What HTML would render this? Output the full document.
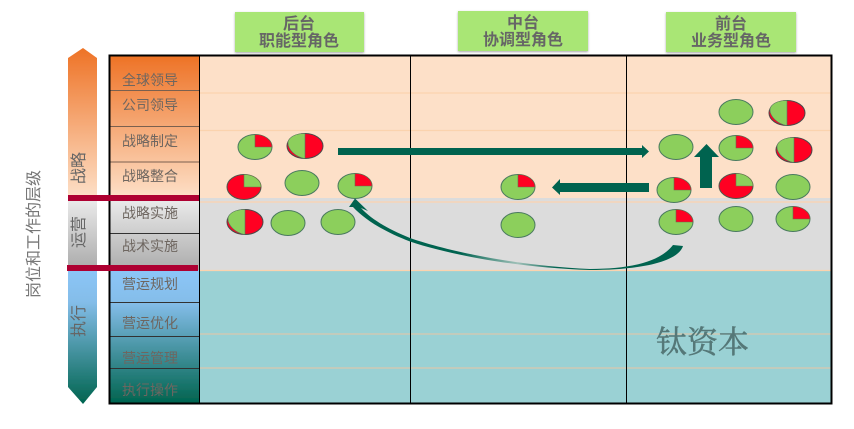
<!DOCTYPE html>
<html><head><meta charset="utf-8"><style>
html,body{margin:0;padding:0;background:#fff}
svg{display:block}
text{font-family:"Liberation Sans","Noto Sans CJK SC",sans-serif}
</style></head><body>
<svg width="854" height="429" viewBox="0 0 854 429" xmlns="http://www.w3.org/2000/svg">
<defs>
<linearGradient id="o" x1="0" y1="0" x2="0" y2="1"><stop offset="0" stop-color="#ee7326"/><stop offset="1" stop-color="#fde0c8"/></linearGradient>
<linearGradient id="g" x1="0" y1="0" x2="0" y2="1"><stop offset="0" stop-color="#ececec"/><stop offset="1" stop-color="#acacac"/></linearGradient>
<linearGradient id="b" x1="0" y1="0" x2="0" y2="1"><stop offset="0" stop-color="#8cc6f8"/><stop offset=".25" stop-color="#84bde9"/><stop offset="1" stop-color="#00644f"/></linearGradient>
<linearGradient id="c" gradientUnits="userSpaceOnUse" x1="350" y1="0" x2="685" y2="0"><stop offset="0" stop-color="#006350"/><stop offset=".33" stop-color="#006350"/><stop offset=".5" stop-color="#9fc0b8"/><stop offset=".62" stop-color="#006350"/><stop offset="1" stop-color="#006350"/></linearGradient>
<filter id="s" x="-10%" y="-10%" width="120%" height="130%"><feDropShadow dx="0" dy="1" stdDeviation="1" flood-color="#000" flood-opacity=".35"/></filter>
<filter id="bl" x="-5%" y="-5%" width="110%" height="110%"><feGaussianBlur stdDeviation=".35"/></filter>
<g id="e"><ellipse cx="0" cy="0" rx="17" ry="12.5" fill="#8ccf5c" stroke="#4a7a5e" stroke-width="1"/></g>
<g id="q"><ellipse cx="0" cy="0" rx="17" ry="12.5" fill="#8ccf5c" stroke="#4a7a5e" stroke-width="1"/><path d="M0 0V-12.5A17 12.5 0 0 1 17 0Z" fill="#ff0022" stroke="#6a6a4a" stroke-width=".6"/></g>
<g id="t"><ellipse cx="0" cy="0" rx="17" ry="12.5" fill="#ff0022" stroke="#4a5a4e" stroke-width="1"/><path d="M0 0V-12.5A17 12.5 0 0 1 17 0Z" fill="#8ccf5c" stroke="#6a7a4a" stroke-width=".6"/></g>
<g id="h"><ellipse cx="0" cy="0" rx="18" ry="12.5" fill="#ff0022" stroke="#4a4a4a" stroke-width="1"/><path d="M0 -12.5V12.5C-10 11 -17 3 -17 -3C-17 -9 -9 -12.5 0 -12.5Z" fill="#8ccf5c" stroke="#5a7a5e" stroke-width=".6"/></g>
</defs>
<g filter="url(#bl)">
<!-- backgrounds -->
<rect x="199" y="56" width="632" height="142" fill="#fde0c8"/>
<rect x="199" y="198" width="632" height="73" fill="#dcdcdc"/>
<rect x="199" y="271" width="632" height="132" fill="#9ad1d4"/>
<g stroke="#fbd3ae" stroke-width="1.2"><line x1="199" y1="93" x2="831" y2="93"/><line x1="199" y1="130.500" x2="831" y2="130.500"/><line x1="199" y1="202" x2="831" y2="202"/><line x1="199" y1="270.500" x2="831" y2="270.500"/></g>
<g stroke="#d9c8ae" stroke-width="1.2"><line x1="199" y1="334" x2="831" y2="334"/><line x1="199" y1="368" x2="831" y2="368"/></g>
<!-- left column -->
<rect x="110" y="56" width="89" height="142" fill="url(#o)"/>
<rect x="110" y="198" width="89" height="72" fill="url(#g)"/>
<rect x="110" y="270" width="89" height="133" fill="url(#b)"/>
<!-- left arrow -->
<path d="M68 58L83 48L97 58V198H68Z" fill="url(#o)"/>
<rect x="68" y="198" width="29" height="70" fill="url(#g)"/>
<path d="M68 268H97V387L83 404L68 387Z" fill="url(#b)"/>
<!-- row lines -->
<g stroke="#7a6050" stroke-width="1"><line x1="110" y1="90.500" x2="199" y2="90.500"/><line x1="110" y1="126.500" x2="199" y2="126.500"/><line x1="110" y1="162" x2="199" y2="162"/></g>
<g stroke="#333" stroke-width="1"><line x1="110" y1="233.500" x2="199" y2="233.500"/><line x1="110" y1="302.500" x2="199" y2="302.500"/><line x1="110" y1="336.500" x2="199" y2="336.500"/><line x1="110" y1="368.500" x2="199" y2="368.500"/></g>
<!-- frame -->
<g stroke="#000" stroke-width="1" fill="none"><line x1="199.500" y1="56" x2="199.500" y2="404"/><line x1="410.500" y1="56" x2="410.500" y2="404"/><line x1="626.500" y1="56" x2="626.500" y2="404"/></g>
<rect x="109.500" y="55.500" width="722" height="348" fill="none" stroke="#000" stroke-width="2"/>
<!-- red bars -->
<rect x="68" y="195" width="131" height="6" fill="#ae0030"/>
<rect x="67" y="265" width="131" height="6" fill="#ae0030"/>
<!-- headers -->
<rect x="235" y="12" width="129" height="40" fill="#a9e674" filter="url(#s)"/>
<rect x="458" y="11" width="130" height="40" fill="#a9e674" filter="url(#s)"/>
<rect x="666" y="12" width="130" height="40" fill="#a9e674" filter="url(#s)"/>
<g font-size="16" font-weight="bold" fill="#666" text-anchor="middle">
<text x="299" y="29">后台</text><text x="299" y="46">职能型角色</text>
<text x="523" y="28">中台</text><text x="523" y="45">协调型角色</text>
<text x="731" y="29">前台</text><text x="731" y="46">业务型角色</text>
</g>
<!-- row labels -->
<g font-size="14" fill="#6e6660" text-anchor="middle">
<text x="150" y="85">全球领导</text>
<text x="150" y="110">公司领导</text>
<text x="150" y="146">战略制定</text>
<text x="150" y="181">战略整合</text>
<text x="150" y="218">战略实施</text>
<text x="150" y="251">战术实施</text>
<text x="150" y="289">营运规划</text>
<text x="150" y="328">营运优化</text>
<text x="150" y="363">营运管理</text>
<text x="150" y="395">执行操作</text>
</g>
<!-- vertical labels -->
<g font-size="16" fill="#666" text-anchor="middle">
<text transform="translate(84,168) rotate(-90)">战略</text>
<text transform="translate(84,232) rotate(-90)">运营</text>
<text transform="translate(84,321) rotate(-90)">执行</text>
<text transform="translate(39,234) rotate(-90)" fill="#777">岗位和工作的层级</text>
</g>
<text x="656" y="353" font-size="31" style="font-family:'Noto Serif CJK SC',serif" fill="#557878" stroke="#557878" stroke-width=".5">钛资本</text>
<!-- pies -->
<use href="#q" x="255" y="147"/><use href="#h" x="305" y="146"/>
<use href="#t" x="244" y="187"/><use href="#e" x="302" y="183"/><use href="#q" x="355" y="186"/>
<use href="#h" x="245" y="222"/><use href="#e" x="288" y="223"/><use href="#e" x="338" y="222"/>
<use href="#q" x="518" y="187"/><use href="#e" x="518" y="225"/>
<use href="#e" x="736" y="112"/><use href="#h" x="787" y="113"/>
<use href="#e" x="676" y="147"/><use href="#q" x="736" y="148"/><use href="#h" x="794" y="150"/>
<use href="#q" x="674" y="190"/><use href="#t" x="736" y="186"/><use href="#e" x="793" y="187"/>
<use href="#q" x="676" y="222"/><use href="#e" x="736" y="219"/><use href="#q" x="793" y="219"/>
<!-- straight arrows -->
<path d="M338 148H642V145L649 151.500L642 158V155H338Z" fill="#006350"/>
<path d="M649 183H560V179L552 187.500L560 195V192H649Z" fill="#006350"/>
<path d="M700 188V157H694L706.500 144L719 157H712V188Z" fill="#006350"/>
<!-- curved arrow -->
<path d="M683 246C678 262 640 270 590 270C520 268 450 255 410 241.500C385 232 365 220 353 207L349 207L355 198.500L368 211L361 208C372 220 390 230 410 238C450 252 520 266 590 269C630 269 660 262 673 245Z" fill="url(#c)"/>
</g>
</svg>
</body></html>
